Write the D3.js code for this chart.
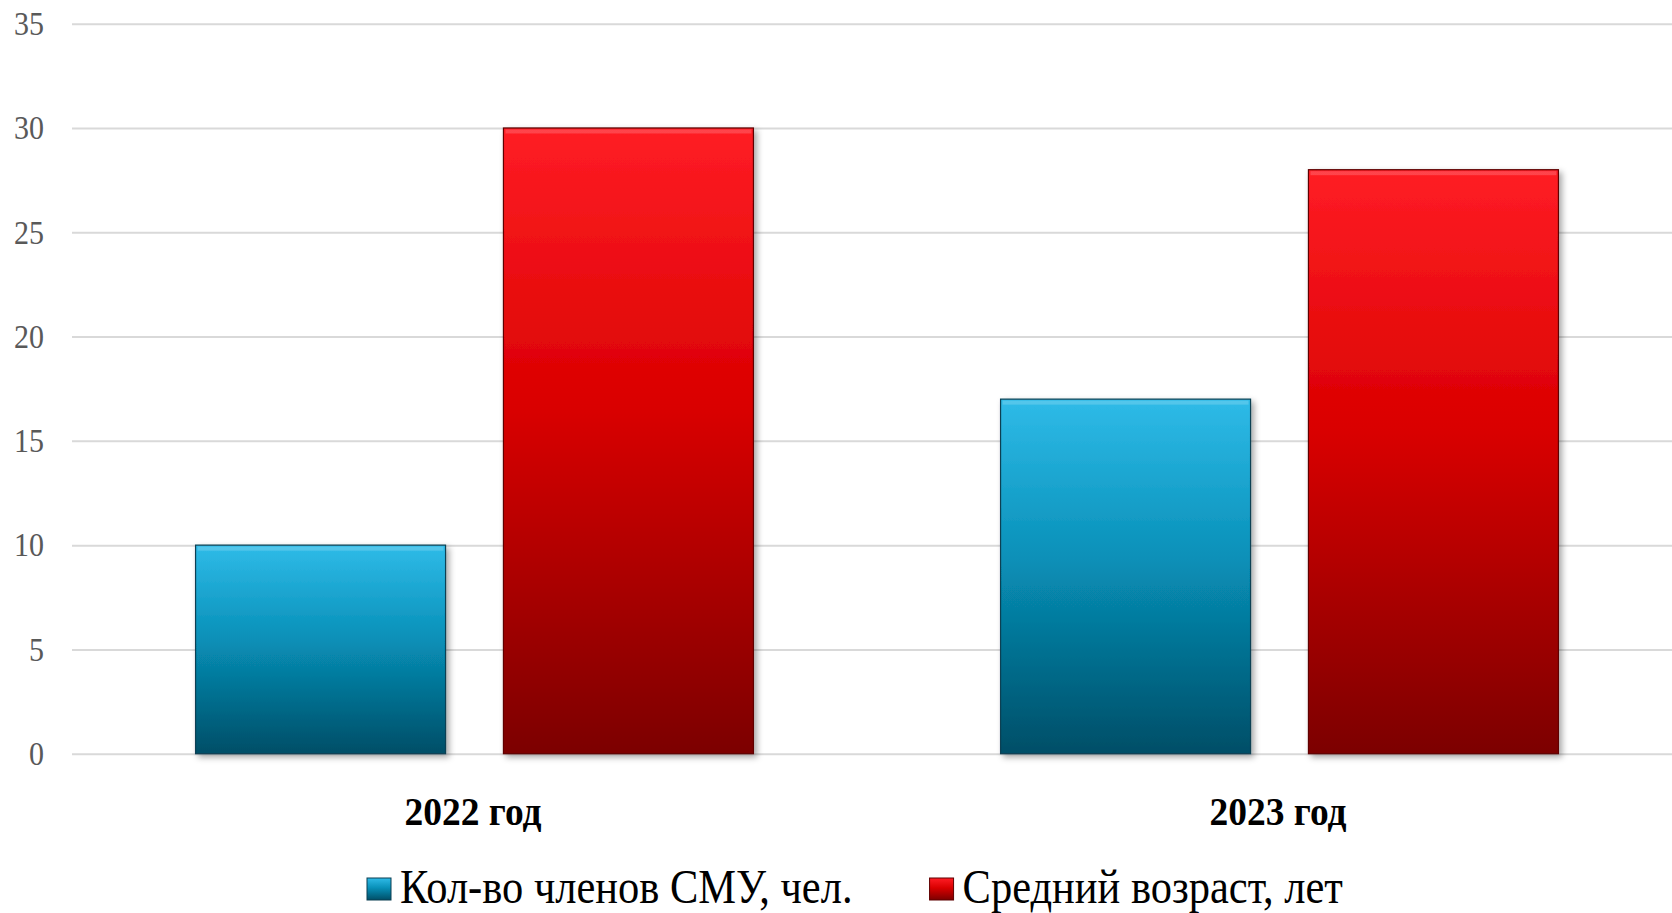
<!DOCTYPE html>
<html>
<head>
<meta charset="utf-8">
<script src="https://cdn.jsdelivr.net/npm/d3@7"></script>
<style>
    body { margin: 0; background: #fff; }
    svg { display: block; font-family: "Liberation Serif", "Times New Roman", serif; }
</style>
</head>
<body>
<svg width="1672" height="913"></svg>
<script>
const categories = ["2022 год", "2023 год"];
const seriesNames = ["Кол-во членов СМУ, чел.", "Средний возраст, лет"];
const members = [10, 17];
const avgAge = [30, 28];
const yTicks = [0, 5, 10, 15, 20, 25, 30, 35];

const svg = d3.select("svg"),
    width = +svg.attr("width"),
    height = +svg.attr("height");

const plotLeft = 72, plotRight = 1672, plotTop = 23.7, plotBottom = 753.7;
const stretch = 1.12; // text in the picture is a bit taller than wide

const data = categories.map((c, i) => ({ cat: c, values: [members[i], avgAge[i]] }));

// gradients
const defs = svg.append("defs");
const grads = [
    { id: "gBlue", stops: [["0%", "#2fbbe8"], ["45%", "#0890b8"], ["100%", "#004e67"]], edge: "#0b3f52" },
    { id: "gRed", stops: [["0%", "#ff1d25"], ["45%", "#d90000"], ["100%", "#7c0000"]], edge: "#5e0000" }
];
grads.forEach(g => {
    let lg = defs.append("linearGradient").attr("id", g.id)
        .attr("x1", 0).attr("y1", 0).attr("x2", 0).attr("y2", 1);
    g.stops.forEach(s => lg.append("stop").attr("offset", s[0]).attr("stop-color", s[1]));
});
const f = defs.append("filter").attr("id", "shadow")
    .attr("x", "-10%").attr("y", "-10%").attr("width", "130%").attr("height", "130%");
f.append("feDropShadow").attr("dx", 3).attr("dy", 3).attr("stdDeviation", 3)
    .attr("flood-color", "#000").attr("flood-opacity", 0.35);

const scaleY = d3.scaleLinear().domain([0, 35]).range([plotBottom, plotTop]);

const scaleX = d3.scaleBand()
    .domain(categories)
    .range([plotLeft, 1682])
    .paddingInner(0.307)
    .paddingOuter(0.1535);

const scaleS = d3.scaleBand()
    .domain([0, 1])
    .range([0, scaleX.bandwidth()])
    .paddingInner(0.188)
    .paddingOuter(0);

// grid + y labels
const axisY = d3.axisLeft(scaleY).tickValues(yTicks).tickSize(-(plotRight - plotLeft)).tickPadding(28);
const gy = svg.append("g")
    .attr("transform", `translate(${plotLeft},0)`)
    .call(axisY)
    .attr("font-family", "Liberation Serif");
gy.select(".domain").remove();
gy.selectAll(".tick line").attr("stroke", "#d9d9d9").attr("stroke-width", 2);
gy.selectAll(".tick text")
    .attr("fill", "#595959")
    .attr("transform", `scale(1,${stretch})`)
    .style("font-size", "30px")
    .style("font-family", "Liberation Serif");

// bars
const groups = svg.selectAll(".grp")
    .data(data)
    .enter()
    .append("g")
    .attr("transform", d => `translate(${scaleX(d.cat)},0)`);

groups.selectAll("rect.bar")
    .data(d => d.values.map((v, i) => ({ v: v, i: i })))
    .enter()
    .append("rect")
    .attr("class", "bar")
    .attr("x", d => scaleS(d.i))
    .attr("y", d => scaleY(d.v))
    .attr("width", scaleS.bandwidth())
    .attr("height", d => plotBottom - scaleY(d.v))
    .attr("fill", d => `url(#${grads[d.i].id})`)
    .attr("stroke", d => grads[d.i].edge)
    .attr("stroke-width", 1.2)
    .attr("filter", "url(#shadow)");

// bevel highlight
groups.selectAll("rect.hl")
    .data(d => d.values.map((v, i) => ({ v: v, i: i })))
    .enter()
    .append("rect")
    .attr("class", "hl")
    .attr("x", d => scaleS(d.i) + 2)
    .attr("y", d => scaleY(d.v) + 1.5)
    .attr("width", scaleS.bandwidth() - 4)
    .attr("height", 4)
    .attr("fill", "#fff")
    .attr("opacity", 0.18);

// category labels
svg.selectAll(".cat")
    .data(categories)
    .enter()
    .append("text")
    .attr("transform", d => `translate(${scaleX(d) + scaleX.bandwidth() / 2 - 1.5},825) scale(1,1.06)`)
    .attr("text-anchor", "middle")
    .style("font-size", "37.5px")
    .style("font-weight", "bold")
    .attr("fill", "#000")
    .text(d => d);

// legend
const legend = svg.append("g");
let lx = 367;
seriesNames.forEach((name, i) => {
    let item = legend.append("g").attr("transform", `translate(${lx},0)`);
    item.append("rect")
        .attr("x", 0).attr("y", 878)
        .attr("width", 24).attr("height", 22)
        .attr("fill", `url(#${grads[i].id})`)
        .attr("stroke", grads[i].edge).attr("stroke-width", 1);
    let t = item.append("text")
        .attr("transform", `translate(33,903) scale(1,${stretch})`)
        .style("font-size", "42.5px")
        .attr("fill", "#000")
        .text(name);
    lx += 33 + t.node().getComputedTextLength() + 77;
});
</script>
</body>
</html>
